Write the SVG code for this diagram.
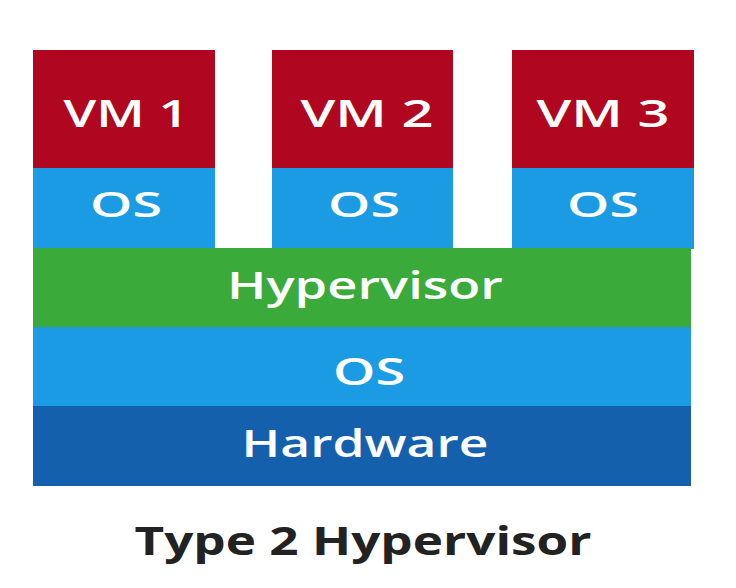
<svg xmlns="http://www.w3.org/2000/svg" width="736" height="588" viewBox="0 0 736 588">
<style>
.vm{fill:#B0061F}
.os{fill:#1A9BE3}
.hv{fill:#3AAA3A}
.hw{fill:#1560AD}
.lbl{font-family:"Open Sans","Liberation Sans",sans-serif;font-weight:600;fill:#FFFFFF;text-anchor:middle}
.title{font-family:"Open Sans","Liberation Sans",sans-serif;font-weight:bold;fill:#222222;text-anchor:middle;font-size:39px}
</style>
<rect width="736" height="588" fill="#FFFFFF"/>
<g id="vm1">
<rect class="vm" x="33" y="50" width="182" height="119"/>
<text class="lbl" x="126" y="127" font-size="37" textLength="125" lengthAdjust="spacingAndGlyphs">VM 1</text>
</g>
<g id="os1">
<rect class="os" x="33" y="168" width="182" height="81"/>
<text class="lbl" x="126" y="217" font-size="35" textLength="72" lengthAdjust="spacingAndGlyphs">OS</text>
</g>
<g id="vm2">
<rect class="vm" x="272" y="50" width="181" height="119"/>
<text class="lbl" x="367" y="127" font-size="37" textLength="133" lengthAdjust="spacingAndGlyphs">VM 2</text>
</g>
<g id="os2">
<rect class="os" x="272" y="168" width="181" height="81"/>
<text class="lbl" x="364" y="217" font-size="35" textLength="72" lengthAdjust="spacingAndGlyphs">OS</text>
</g>
<g id="vm3">
<rect class="vm" x="512" y="50" width="182" height="119"/>
<text class="lbl" x="603" y="127" font-size="37" textLength="133" lengthAdjust="spacingAndGlyphs">VM 3</text>
</g>
<g id="os3">
<rect class="os" x="512" y="168" width="182" height="81"/>
<text class="lbl" x="603" y="217" font-size="35" textLength="72" lengthAdjust="spacingAndGlyphs">OS</text>
</g>
<g id="hypervisor">
<rect class="hv" x="33" y="248" width="658" height="80"/>
<text class="lbl" x="365" y="299" font-size="37" textLength="276" lengthAdjust="spacingAndGlyphs">Hypervisor</text>
</g>
<g id="hostos">
<rect class="os" x="33" y="327" width="658" height="80"/>
<text class="lbl" x="369" y="385" font-size="37" textLength="72" lengthAdjust="spacingAndGlyphs">OS</text>
</g>
<g id="hardware">
<rect class="hw" x="33" y="406" width="658" height="80"/>
<text class="lbl" x="365" y="457" font-size="37" textLength="247" lengthAdjust="spacingAndGlyphs">Hardware</text>
</g>
<text class="title" x="363" y="555" textLength="457" lengthAdjust="spacingAndGlyphs">Type 2 Hypervisor</text>
</svg>
